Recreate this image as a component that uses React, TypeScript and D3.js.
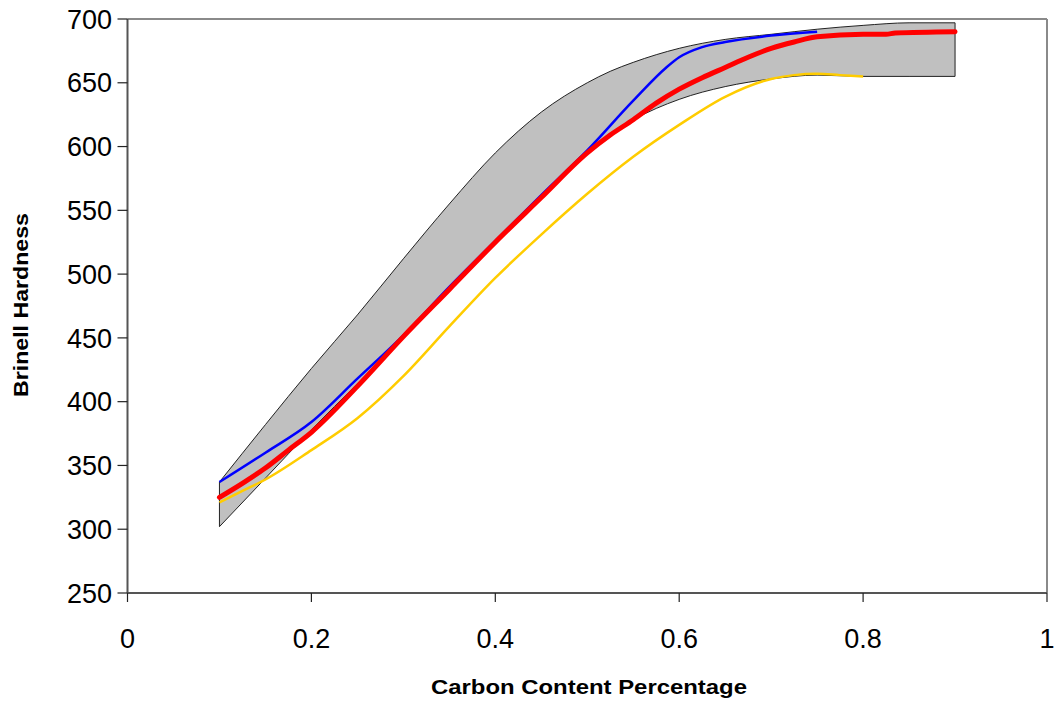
import React from "react";
import * as d3 from "d3";

const xTicks = [0, 0.2, 0.4, 0.6, 0.8, 1];
const xTickLabels = ["0", "0.2", "0.4", "0.6", "0.8", "1"];
const yTicks = [250, 300, 350, 400, 450, 500, 550, 600, 650, 700];

const bandX = [0.1, 0.15, 0.2, 0.25, 0.3, 0.35, 0.4, 0.45, 0.5, 0.525, 0.55, 0.6, 0.65, 0.7, 0.75, 0.8, 0.85, 0.9];
const bandUpper = [337, 382, 426, 468, 512, 555, 595, 627, 650, 659, 666, 677, 684, 688, 692, 695, 697, 697];
const bandLower = [302, 340, 378, 414, 450, 488, 523, 560, 596, 610, 621, 637, 647, 653, 656, 655, 655, 655];

const blueX = [0.1, 0.15, 0.2, 0.25, 0.3, 0.35, 0.4, 0.45, 0.5, 0.55, 0.586, 0.6, 0.625, 0.65, 0.7, 0.75];
const blueY = [337, 360, 384, 418, 452, 490, 526, 562, 597, 636, 662, 670, 678, 682, 687, 690];

const redX = [0.1, 0.125, 0.15, 0.175, 0.2, 0.25, 0.3, 0.35, 0.4, 0.45, 0.5, 0.525, 0.55, 0.575, 0.6, 0.625, 0.65, 0.675, 0.7, 0.725, 0.75, 0.8, 0.825, 0.835, 0.9];
const redY = [325, 336, 348, 362, 376, 412, 451, 488, 525, 560, 595, 609, 621, 634, 645, 654, 662, 670, 677, 682, 686, 688, 688, 689, 690];

const yellowX = [0.1, 0.125, 0.15, 0.2, 0.25, 0.3, 0.35, 0.4, 0.45, 0.5, 0.55, 0.6, 0.65, 0.7, 0.725, 0.75, 0.775, 0.8];
const yellowY = [321, 330, 339, 362, 387, 420, 459, 497, 531, 563, 592, 617, 639, 653, 656, 657, 656, 655];

const W = 1057;
const H = 702;
const FONT = "'Liberation Sans', Arial, sans-serif";

export default function App() {
  const x = d3.scaleLinear().domain([0, 1]).range([127.5, 1047]);
  const y = d3.scaleLinear().domain([250, 700]).range([593, 19]);

  const band = bandX.map((v, i) => ({ x: v, lo: bandLower[i], hi: bandUpper[i] }));
  const area = d3
    .area<{ x: number; lo: number; hi: number }>()
    .x((d) => x(d.x))
    .y0((d) => y(d.lo))
    .y1((d) => y(d.hi))
    .curve(d3.curveMonotoneX);

  const mk = (xs: number[], ys: number[]) => xs.map((v, i) => [v, ys[i]] as [number, number]);
  const line = d3
    .line<[number, number]>()
    .x((d) => x(d[0]))
    .y((d) => y(d[1]))
    .curve(d3.curveMonotoneX);

  const x0 = x(0), x1 = x(1), yTop = y(700), yBot = y(250);

  return (
    <svg width={W} height={H} style={{ position: "absolute", left: 0, top: 0, background: "#fff" }}>
      <rect x={0} y={0} width={W} height={H} fill="#fff" />
      <line x1={x0} y1={yTop} x2={x1} y2={yTop} stroke="#8a8a8a" strokeWidth={2} />
      <line x1={x1} y1={yTop} x2={x1} y2={yBot} stroke="#8a8a8a" strokeWidth={2} />

      <path d={area(band) || ""} fill="#c0c0c0" stroke="#222" strokeWidth={1} />

      <path d={line(mk(yellowX, yellowY)) || ""} fill="none" stroke="#ffcc00" strokeWidth={2.5} />
      <path d={line(mk(blueX, blueY)) || ""} fill="none" stroke="#0000ff" strokeWidth={2.5} />
      <path d={line(mk(redX, redY)) || ""} fill="none" stroke="#ff0000" strokeWidth={5} strokeLinecap="round" />

      <line x1={x0} y1={yTop} x2={x0} y2={yBot} stroke="#555" strokeWidth={2} />
      <line x1={x0} y1={yBot} x2={x1} y2={yBot} stroke="#555" strokeWidth={2} />

      {yTicks.map((t) => (
        <g key={"y" + t}>
          <line x1={x0 - 10} x2={x0} y1={y(t)} y2={y(t)} stroke="#222" strokeWidth={1.2} />
          <text x={112} y={y(t)} dy="0.36em" textAnchor="end" fontFamily={FONT} fontSize={27} fill="#000">
            {t}
          </text>
        </g>
      ))}
      {xTicks.map((t, i) => (
        <g key={"x" + t}>
          <line x1={x(t)} x2={x(t)} y1={yBot} y2={yBot + 9} stroke="#222" strokeWidth={1.2} />
          <text x={x(t)} y={648} textAnchor="middle" fontFamily={FONT} fontSize={27} fill="#000">
            {xTickLabels[i]}
          </text>
        </g>
      ))}

      <text x={589} y={694} textAnchor="middle" fontFamily={FONT} fontWeight="bold" fontSize={21}
        textLength={316} lengthAdjust="spacingAndGlyphs" fill="#000">
        Carbon Content Percentage
      </text>
      <text
        transform={`translate(28,305) rotate(-90)`}
        textAnchor="middle"
        fontFamily={FONT}
        fontWeight="bold"
        fontSize={20}
        textLength={184}
        lengthAdjust="spacingAndGlyphs"
        fill="#000"
      >
        Brinell Hardness
      </text>
    </svg>
  );
}
